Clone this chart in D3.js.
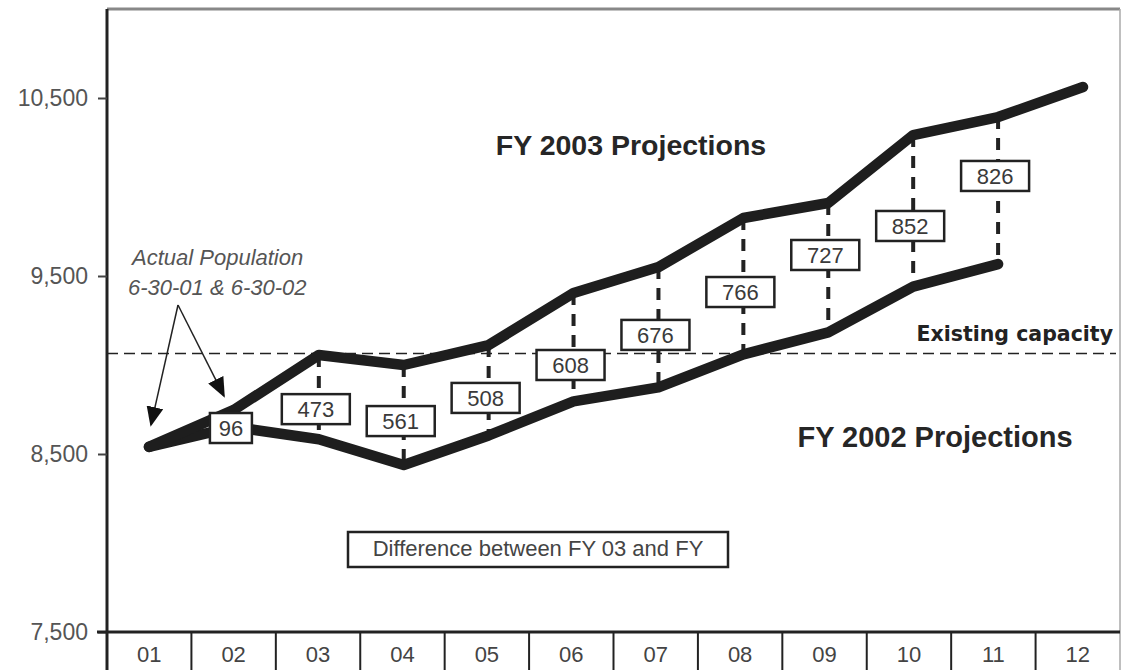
<!DOCTYPE html>
<html>
<head>
<meta charset="utf-8">
<script src="https://cdn.jsdelivr.net/npm/d3@7"></script>
<style>
  body { margin: 0; background: #fff; }
  svg { display: block; font-family: "Liberation Sans", Arial, sans-serif; }
</style>
</head>
<body>
<div id="chart"></div>
<script>
// fiscal years on the x axis
const years = ["01", "02", "03", "04", "05", "06", "07", "08", "09", "10", "11", "12"];
// projected population
const fy2003 = [8540, 8748, 9056, 9000, 9112, 9404, 9550, 9826, 9910, 10292, 10393, 10562];
const fy2002 = [8540, 8652, 8583, 8438, 8604, 8796, 8874, 9060, 9183, 9440, 9567];
// difference labels (FY03 - FY02), first year has none
const diffs = [null, 96, 473, 561, 508, 608, 676, 766, 727, 852, 826];
// where each difference box sits, in population units
const diffLabelAt = [null, 8646, 8752, 8685, 8815, 9000, 9169, 9410, 9618, 9781, 10062];
const yTicks = [7500, 8500, 9500, 10500];
const capacity = 9065;

const W = 1122, H = 670;
const plotLeft = 107, plotRight = 1120, plotTop = 9, plotBottom = 632;

const svg = d3.select("#chart").append("svg")
    .attr("width", W)
    .attr("height", H);

// scales
const y = d3.scaleLinear().domain([7500, 10500]).range([plotBottom, 98]);
const xBand = d3.scaleBand().domain(years).range([plotLeft, plotRight]);
const x = d3.scalePoint().domain(years).range([149, 1083]);

// frame: top and right border
svg.append("line").attr("x1", plotLeft).attr("x2", plotRight).attr("y1", plotTop).attr("y2", plotTop)
    .attr("stroke", "#888").attr("stroke-width", 3);
svg.append("line").attr("x1", plotRight).attr("x2", plotRight).attr("y1", plotTop).attr("y2", H)
    .attr("stroke", "#aaa").attr("stroke-width", 1.5);

// y axis
const yAxis = svg.append("g")
    .attr("transform", `translate(${plotLeft},0)`)
    .call(d3.axisLeft(y).tickValues(yTicks).tickSize(9).tickPadding(10).tickFormat(d3.format(",")));
yAxis.select(".domain").attr("d", `M0,${plotTop}V${plotBottom}`).attr("stroke", "#222").attr("stroke-width", 3);
yAxis.selectAll(".tick line").attr("stroke", "#444").attr("stroke-width", 2);
yAxis.selectAll(".tick text")
    .attr("font-size", 23)
    .attr("fill", "#555")
    .attr("font-family", "'Liberation Sans', Arial, sans-serif");

// x axis as a row of cells under the plot
svg.append("line").attr("x1", plotLeft - 10).attr("x2", plotRight).attr("y1", plotBottom).attr("y2", plotBottom)
    .attr("stroke", "#222").attr("stroke-width", 3);
svg.selectAll(".cell-sep")
    .data(years.slice(1))
    .enter()
    .append("line")
    .attr("class", "cell-sep")
    .attr("x1", d => xBand(d)).attr("x2", d => xBand(d))
    .attr("y1", plotBottom).attr("y2", H)
    .attr("stroke", "#222").attr("stroke-width", 2);
svg.append("line").attr("x1", plotLeft).attr("x2", plotLeft).attr("y1", plotBottom).attr("y2", H)
    .attr("stroke", "#222").attr("stroke-width", 3);
svg.selectAll(".cell-label")
    .data(years)
    .enter()
    .append("text")
    .attr("class", "cell-label")
    .attr("x", d => xBand(d) + xBand.bandwidth() / 2)
    .attr("y", 662)
    .attr("text-anchor", "middle")
    .attr("font-size", 22)
    .attr("fill", "#444")
    .text(d => d);

// existing capacity
svg.append("line")
    .attr("x1", plotLeft).attr("x2", plotRight - 4)
    .attr("y1", y(capacity)).attr("y2", y(capacity))
    .attr("stroke", "#222").attr("stroke-width", 1.5)
    .attr("stroke-dasharray", "11,6");
svg.append("text")
    .attr("x", 1113).attr("y", y(capacity) - 12)
    .attr("text-anchor", "end")
    .attr("font-family", "'DejaVu Sans', Verdana, sans-serif")
    .attr("font-weight", "bold")
    .attr("font-size", 20.5)
    .attr("fill", "#222")
    .text("Existing capacity");

// dashed connectors between the two projections
const pairs = diffs.map((d, i) => ({year: years[i], d: d, hi: fy2003[i], lo: fy2002[i], at: diffLabelAt[i]}))
    .filter(p => p.d !== null);

svg.selectAll(".connector")
    .data(pairs)
    .enter()
    .append("line")
    .attr("class", "connector")
    .attr("x1", p => x(p.year)).attr("x2", p => x(p.year))
    .attr("y1", p => y(p.hi)).attr("y2", p => y(p.lo))
    .attr("stroke", "#222").attr("stroke-width", 4)
    .attr("stroke-dasharray", "12,9");

// projection lines
const line = d3.line()
    .x((d, i) => x(years[i]))
    .y(d => y(d));

[fy2002, fy2003].forEach(series => {
    svg.append("path")
        .datum(series)
        .attr("d", line)
        .attr("fill", "none")
        .attr("stroke", "#1e1e1e")
        .attr("stroke-width", 10.5)
        .attr("stroke-linejoin", "round")
        .attr("stroke-linecap", "round");
});

// difference boxes
const boxes = svg.selectAll(".diff")
    .data(pairs)
    .enter()
    .append("g")
    .attr("class", "diff")
    .attr("transform", p => `translate(${x(p.year) - 3},${y(p.at)})`);

boxes.append("rect")
    .attr("x", p => p.d < 100 ? -21 : -34)
    .attr("y", -15)
    .attr("width", p => p.d < 100 ? 42 : 68)
    .attr("height", 30)
    .attr("fill", "#fff")
    .attr("stroke", "#222")
    .attr("stroke-width", 2.5);

boxes.append("text")
    .attr("text-anchor", "middle")
    .attr("y", 8)
    .attr("font-size", 22)
    .attr("fill", "#3a3a3a")
    .text(p => p.d);

// series titles
svg.append("text")
    .attr("x", 631).attr("y", 155)
    .attr("text-anchor", "middle")
    .attr("font-size", 28.5)
    .attr("font-weight", "bold")
    .attr("fill", "#262626")
    .text("FY 2003 Projections");

svg.append("text")
    .attr("x", 935).attr("y", 447)
    .attr("text-anchor", "middle")
    .attr("font-size", 29)
    .attr("font-weight", "bold")
    .attr("fill", "#262626")
    .text("FY 2002 Projections");

// actual population note with arrows
svg.append("defs").append("marker")
    .attr("id", "arrow")
    .attr("viewBox", "0 0 10 10")
    .attr("refX", 9).attr("refY", 5)
    .attr("markerWidth", 20).attr("markerHeight", 17)
    .attr("markerUnits", "userSpaceOnUse")
    .attr("orient", "auto")
    .attr("preserveAspectRatio", "none")
    .append("path")
    .attr("d", "M0,0L10,5L0,10z")
    .attr("fill", "#111");

const note = svg.append("g")
    .attr("font-style", "italic")
    .attr("font-size", 22)
    .attr("fill", "#555");
note.append("text").attr("x", 132).attr("y", 265).text("Actual Population");
note.append("text").attr("x", 128).attr("y", 295).text("6-30-01  & 6-30-02");

const apex = [178, 305];
[["01", fy2003[0]], ["02", fy2003[1]]].forEach((t, i) => {
    const tx = x(t[0]) + (i === 0 ? 2 : -10);
    const ty = y(t[1]) - (i === 0 ? 22 : 14);
    svg.append("line")
        .attr("x1", apex[0]).attr("y1", apex[1])
        .attr("x2", tx).attr("y2", ty)
        .attr("stroke", "#222").attr("stroke-width", 1.5)
        .attr("marker-end", "url(#arrow)");
});

// caption box
const cap = svg.append("g").attr("transform", "translate(348,532)");
cap.append("rect")
    .attr("width", 380).attr("height", 35)
    .attr("fill", "#fff")
    .attr("stroke", "#222").attr("stroke-width", 2.5);
cap.append("text")
    .attr("x", 190).attr("y", 24)
    .attr("text-anchor", "middle")
    .attr("font-size", 22)
    .attr("fill", "#444")
    .text("Difference between FY 03 and FY");
</script>
</body>
</html>
